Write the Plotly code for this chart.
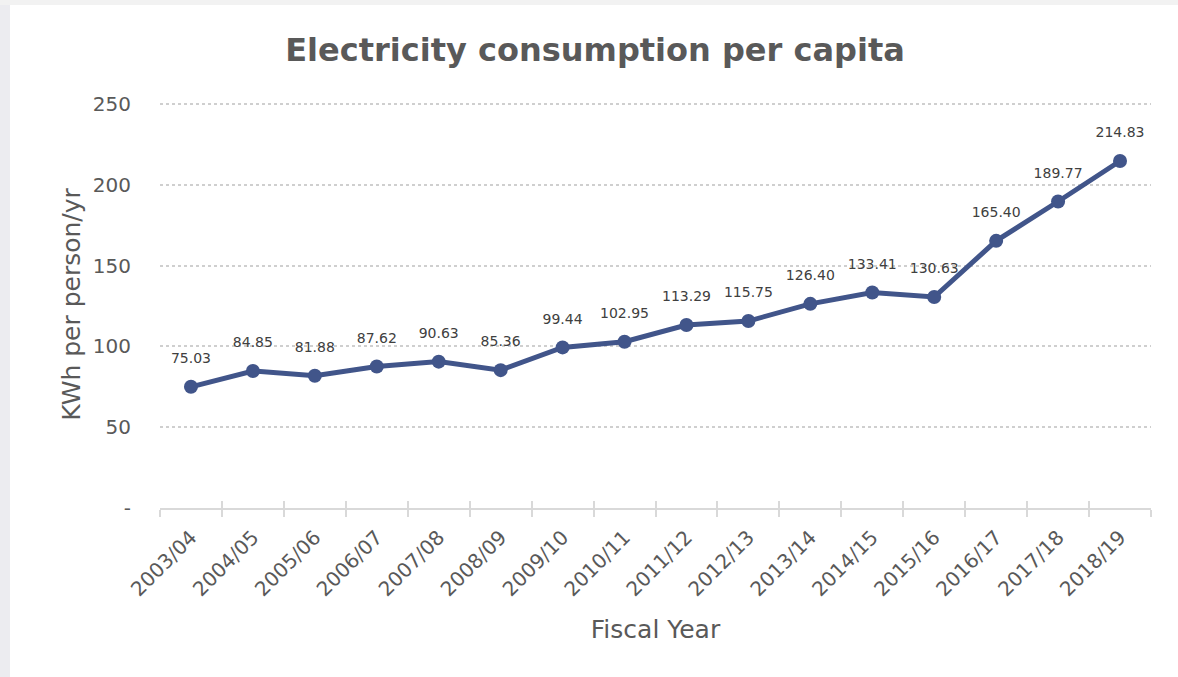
import plotly.graph_objects as go

years = ["2003/04", "2004/05", "2005/06", "2006/07", "2007/08", "2008/09", "2009/10",
         "2010/11", "2011/12", "2012/13", "2013/14", "2014/15", "2015/16", "2016/17",
         "2017/18", "2018/19"]
kwh = [75.03, 84.85, 81.88, 87.62, 90.63, 85.36, 99.44, 102.95, 113.29, 115.75,
       126.40, 133.41, 130.63, 165.40, 189.77, 214.83]
y_ticks = [0, 50, 100, 150, 200, 250]
y_tick_text = ["-", "50", "100", "150", "200", "250"]

FONT = "DejaVu Sans"
LINE = "#41558a"
TXT = "#595959"
AX = "#d9d9d9"

fig = go.Figure()
fig.add_trace(go.Scatter(
    x=years, y=kwh, mode="lines+markers",
    line=dict(color=LINE, width=5),
    marker=dict(color=LINE, size=14),
    cliponaxis=False, showlegend=False, hoverinfo="skip",
))
# data labels (invisible larger markers give the label offset)
fig.add_trace(go.Scatter(
    x=years, y=kwh, mode="markers+text",
    marker=dict(color="rgba(0,0,0,0)", size=31),
    text=[f"{v:.2f}" for v in kwh],
    textposition="top center",
    textfont=dict(family=FONT, size=14, color="#404040"),
    cliponaxis=False, showlegend=False, hoverinfo="skip",
))
# invisible trace on overlay axis to draw upward tick marks
fig.add_trace(go.Scatter(x=years, y=kwh, xaxis="x2", mode="none",
                         showlegend=False, hoverinfo="skip"))

fig.update_layout(
    width=1178, height=677,
    margin=dict(l=160, r=27, t=101, b=169),
    paper_bgcolor="white", plot_bgcolor="white",
    title=dict(text="<b>Electricity consumption per capita</b>",
               font=dict(family=FONT, size=32, color=TXT),
               x=595 / 1178, xref="container", xanchor="center",
               y=1 - 50 / 677, yref="container", yanchor="middle"),
    xaxis=dict(
        type="category", range=[-0.5, 15.5],
        tickson="boundaries", ticks="outside", ticklen=7, tickwidth=1.5,
        tickcolor=AX, showline=True, linecolor=AX, linewidth=1.5,
        showgrid=False, tickangle=-45, ticklabelstandoff=8,
        tickfont=dict(family=FONT, size=20, color=TXT),
        title=dict(text="Fiscal Year", font=dict(family=FONT, size=25, color=TXT),
                   standoff=20),
    ),
    xaxis2=dict(
        type="category", range=[-0.5, 15.5], overlaying="x", side="bottom",
        anchor="y",
        tickson="boundaries", ticks="inside", ticklen=7, tickwidth=1.5,
        tickcolor=AX, showticklabels=False, showgrid=False, showline=False,
    ),
    yaxis=dict(
        range=[0, 252], tickvals=y_ticks, ticktext=y_tick_text,
        showgrid=True, gridcolor="#cfcfcf", griddash="dot", gridwidth=1.5,
        zeroline=False, showline=False, ticks="",
        ticklabelstandoff=28,
        tickfont=dict(family=FONT, size=20, color=TXT),
        title=dict(text="KWh per person/yr", font=dict(family=FONT, size=25, color=TXT),
                   standoff=5),
    ),
    shapes=[
        dict(type="rect", xref="paper", yref="paper", xsizemode="pixel", xanchor=0,
             x0=-161, x1=-150, y0=-0.5, y1=1.5, fillcolor="#ececf0",
             line=dict(width=0), layer="above"),
        dict(type="rect", xref="paper", yref="paper", ysizemode="pixel", yanchor=1,
             x0=-0.5, x1=1.5, y0=96, y1=110, fillcolor="#f2f2f2",
             line=dict(width=0), layer="above"),
    ],
)

fig.write_html("out.html")
